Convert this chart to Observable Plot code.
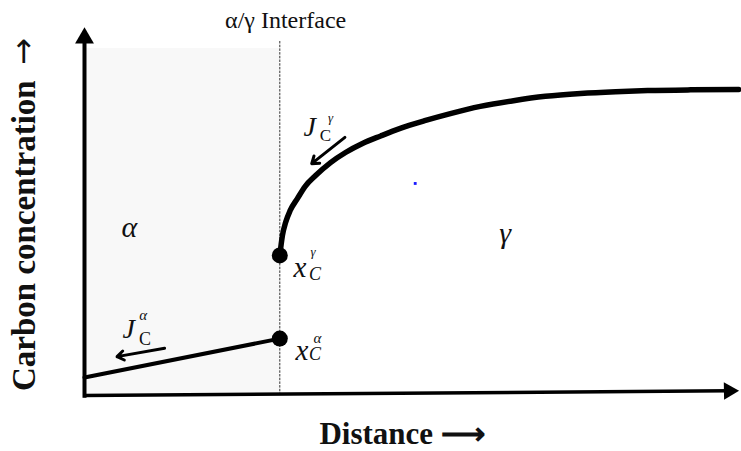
<!DOCTYPE html>
<html>
<head>
<meta charset="utf-8">
<script src="https://cdn.jsdelivr.net/npm/d3@7"></script>
<script src="https://cdn.jsdelivr.net/npm/@observablehq/plot@0.6"></script>
<style>
  html, body { margin: 0; padding: 0; background: #fff; }
  #chart svg { display: block; }
</style>
</head>
<body>
<div id="chart"></div>
<script>
// Schematic carbon profile across an α/γ interface (distance and concentration in arbitrary units, 0–100).
const interfaceX = 30;

// Carbon in ferrite (α): a shallow linear gradient up to the interface.
const alphaDistance = [0, 30];
const alphaCarbon = [5.0, 15.8];

// Carbon in austenite (γ): rises steeply from the interface and levels off.
const gammaDistance = [30, 30.4, 30.9, 31.6, 32.7, 33.9, 35.5, 37.8, 40.1, 42.7, 45.5, 48.5, 52.4, 56.2, 60.8, 65.9, 70.8, 76.2, 81.6, 86.5, 93.1, 100.5];
const gammaCarbon = [38.9, 44.4, 48.1, 51.4, 54.7, 58.1, 61.1, 64.7, 67.5, 70.0, 72.1, 74.2, 76.4, 78.3, 80.3, 81.9, 83.1, 83.9, 84.4, 84.7, 84.9, 85.0];

// Interface compositions x_C^α and x_C^γ.
const interfaceCarbon = [15.8, 38.9];

// Phase regions
const phaseNames = ["α", "γ"];
const phaseLabelX = [6.9, 64.6];
const phaseLabelY = [46.7, 45];

// Flux arrows J_C (pointing down the gradient, towards −x)
const fluxArrows = [
  {x1: 12.3, y1: 13.1, x2: 5.0, y2: 10.8},
  {x1: 40.0, y1: 71.7, x2: 34.9, y2: 64.4}
];

// Symbol labels: base letter, subscript and superscript parts
const symbolParts = [
  {text: "J", x: 6.8, y: 18.6, size: 28, italic: true},
  {text: "α", x: 9.0, y: 22.2, size: 15, italic: true},
  {text: "C", x: 9.3, y: 15.6, size: 18, italic: false},
  {text: "J", x: 34.6, y: 74.7, size: 28, italic: true},
  {text: "γ", x: 37.8, y: 77.2, size: 13, italic: true},
  {text: "C", x: 37.0, y: 72.3, size: 17, italic: false},
  {text: "x", x: 33.1, y: 35.6, size: 29, italic: true},
  {text: "γ", x: 35.1, y: 39.9, size: 13, italic: true},
  {text: "C", x: 35.4, y: 33.6, size: 18, italic: true},
  {text: "x", x: 33.4, y: 12.4, size: 29, italic: true},
  {text: "α", x: 35.8, y: 16.0, size: 15, italic: true},
  {text: "C", x: 35.4, y: 11.4, size: 18, italic: true}
];

const xTitle = "Distance ⟶";
const yTitle = "Carbon concentration";
const yTitleArrow = "→";
const interfaceTitle = "α/γ Interface";

// Axis extents (the x axis rises slightly towards its arrowhead)
const yAxis = {x: 0, y1: -0.6, y2: 99.3};
const xAxis = {x1: -0.2, y1: 0, x2: 99.0, y2: 1.3};

// A stray mark in the γ field
const strayMark = [{x: 50.8, y: 58.9}];

const serif = "'Liberation Serif', 'Times New Roman', serif";

const alphaLine = alphaDistance.map((d, i) => ({x: d, y: alphaCarbon[i]}));
const gammaLine = gammaDistance.map((d, i) => ({x: d, y: gammaCarbon[i]}));
const phases = phaseNames.map((name, i) => ({name, x: phaseLabelX[i], y: phaseLabelY[i]}));

const chart = Plot.plot({
  width: 741,
  height: 451,
  marginLeft: 84,
  marginRight: 6,
  marginTop: 35,
  marginBottom: 56,
  x: {domain: [0, 100], axis: null},
  y: {domain: [0, 100], axis: null},
  style: {background: "#fff", overflow: "visible"},
  marks: [
    // α field shading
    Plot.rectY([{x1: 0, x2: interfaceX, y: 96.4}], {x1: "x1", x2: "x2", y1: 0, y2: "y", fill: "#f8f8f8"}),
    // interface line
    Plot.ruleX([interfaceX], {y1: 0, y2: 98.6, stroke: "#333", strokeWidth: 1, strokeDasharray: "2.5,1.2"}),
    // axes: shafts and filled arrowheads
    Plot.link([yAxis], {x1: "x", y1: "y1", x2: "x", y2: "y2", stroke: "#000", strokeWidth: 4}),
    Plot.link([xAxis], {x1: "x1", y1: "y1", x2: "x2", y2: "y2", stroke: "#000", strokeWidth: 3.5}),
    Plot.dot([yAxis], {x: "x", y: "y2", symbol: "triangle", r: 7, fill: "#000", stroke: "none"}),
    Plot.dot([xAxis], {x: "x2", y: "y2", symbol: "triangle", r: 6.5, rotate: 89, fill: "#000", stroke: "none"}),
    // concentration profiles
    Plot.line(alphaLine, {x: "x", y: "y", stroke: "#000", strokeWidth: 4}),
    Plot.line(gammaLine, {x: "x", y: "y", stroke: "#000", strokeWidth: 5.5, curve: "monotone-x"}),
    Plot.dot(interfaceCarbon, {x: interfaceX, y: d => d, r: 8, fill: "#000", stroke: "none"}),
    // flux arrows
    Plot.arrow(fluxArrows, {x1: "x1", y1: "y1", x2: "x2", y2: "y2", stroke: "#000", strokeWidth: 3, headLength: 4, headAngle: 70}),
    // labels
    Plot.text(phases, {x: "x", y: "y", text: "name", fontSize: 30, fontStyle: "italic", fontFamily: serif, fill: "#111"}),
    Plot.text(symbolParts, {filter: d => d.italic, x: "x", y: "y", text: "text", fontSize: "size", fontStyle: "italic", fontFamily: serif, fill: "#111"}),
    Plot.text(symbolParts, {filter: d => !d.italic, x: "x", y: "y", text: "text", fontSize: "size", fontFamily: serif, fill: "#111"}),
    Plot.text([interfaceTitle], {x: interfaceX + 0.9, y: 104.3, text: d => d, fontSize: 24, fontFamily: serif, fill: "#111"}),
    Plot.text([xTitle], {x: 48.8, y: -10.6, text: d => d, fontSize: 31, fontWeight: "bold", fontFamily: serif, fill: "#111"}),
    Plot.text([yTitle], {x: -9.2, y: 44.4, text: d => d, rotate: -90, fontSize: 33, fontWeight: "bold", fontFamily: serif, fill: "#111"}),
    Plot.text([yTitleArrow], {x: -9.4, y: 95.6, text: d => d, rotate: -90, fontSize: 32, fontFamily: "'DejaVu Sans', sans-serif", fill: "#111"}),
    Plot.dot(strayMark, {x: "x", y: "y", r: 1.6, symbol: "square", fill: "#1a1aff", stroke: "none"})
  ]
});

document.getElementById("chart").append(chart);
</script>
</body>
</html>
